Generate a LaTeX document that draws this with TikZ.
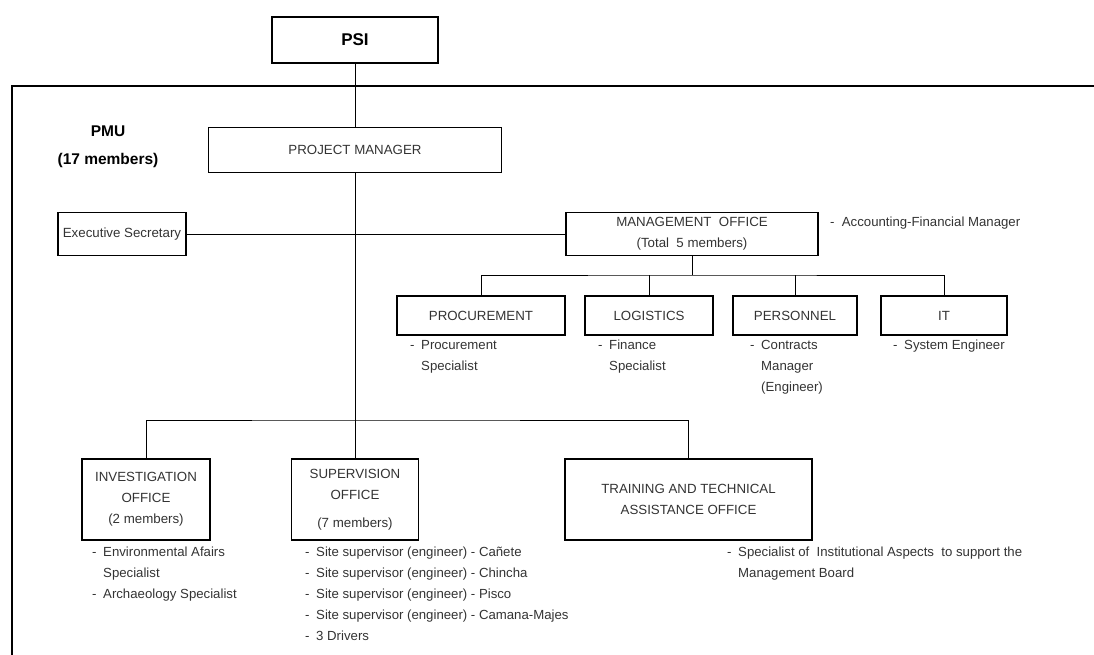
\documentclass[tikz,border=0pt]{standalone}
\usepackage{fontspec}
\setmainfont{Liberation Sans}
\usetikzlibrary{positioning}

\newcommand{\dashitem}{\makebox[11pt][l]{-}}
\newcommand{\dashpad}{\hspace*{11pt}}

\tikzset{
  office/.style = {draw, rectangle, line width=1.3pt, inner sep=0pt, align=center,
                   text=black!80, font=\fontsize{13.3}{21}\selectfont},
  duties/.style = {anchor=north west, inner sep=0pt, align=left,
                   text=black!80, font=\fontsize{13.2}{21}\selectfont},
  link/.style   = {line width=0.8pt}
}

\begin{document}
\begin{tikzpicture}[x=1pt, y=-1pt]

\useasboundingbox (0,0) rectangle (1094,655);
\draw [line width=2.2pt] (12,660) -- (12,86) -- (1100,86);

\node [office, minimum width=166pt, minimum height=46pt, text=black, font=\bfseries\fontsize{17}{20}\selectfont] (psi) at (355,40) {PSI};
\node [office, minimum width=293pt, minimum height=45pt] (pm)   at (355,150)   {PROJECT MANAGER};
\node [align=center, font=\bfseries\fontsize{15.5}{28}\selectfont] (pmu) at (108,147) {PMU\\(17 members)};
\node [office, minimum width=128pt, minimum height=43pt] (sec)  at (122,234)   {Executive Secretary};
\node [office, minimum width=252pt, minimum height=43pt] (mo)   at (692,234)   {MANAGEMENT \ OFFICE\\(Total \ 5 members)};
\node [duties, anchor=west                             ] (acc)  at (830,223)   {- \ Accounting-Financial Manager};

\node [office, minimum width=168pt, minimum height=39pt] (proc) at (481,315.5) {PROCUREMENT};
\node [office, minimum width=128pt, minimum height=39pt] (log)  at (649,315.5) {LOGISTICS};
\node [office, minimum width=124pt, minimum height=39pt] (pers) at (795,315.5) {PERSONNEL};
\node [office, minimum width=126pt, minimum height=39pt] (it)   at (944,315.5) {IT};

\node [duties] (procl) at (410,340) {\dashitem Procurement\\\dashpad Specialist};
\node [duties] (logl)  at (598,340) {\dashitem Finance\\\dashpad Specialist};
\node [duties] (persl) at (750,340) {\dashitem Contracts\\\dashpad Manager\\\dashpad (Engineer)};
\node [duties] (itl)   at (893,340) {\dashitem System Engineer};

\node [office, minimum width=128pt, minimum height=81pt] (inv)  at (146,499.5)   {INVESTIGATION\\OFFICE\\(2 members)};
\node [office, minimum width=127pt, minimum height=81pt] (sup)  at (355,499.5)   {SUPERVISION\\OFFICE\\[7pt](7 members)};
\node [office, minimum width=247pt, minimum height=81pt] (tta)  at (688.5,499.5) {TRAINING AND TECHNICAL\\ASSISTANCE OFFICE};

\node [duties] (invl) at (92,547)  {\dashitem Environmental Afairs\\\dashpad Specialist\\\dashitem Archaeology Specialist};
\node [duties] (supl) at (305,547) {\dashitem Site supervisor (engineer) - Cañete\\
                                    \dashitem Site supervisor (engineer) - Chincha\\
                                    \dashitem Site supervisor (engineer) - Pisco\\
                                    \dashitem Site supervisor (engineer) - Camana-Majes\\
                                    \dashitem 3 Drivers};
\node [duties] (ttal) at (727,547) {\dashitem Specialist of \ Institutional Aspects \ to support the\\\dashpad Management Board};

\coordinate (pmbus) at (355,420);
\coordinate (mobus) at (692,275);

\draw [link] (psi) -- (pm);
\draw [link] (pm)  -- (pmbus);
\draw [link] (sec) -- (mo);

\draw [link] (inv) |- (pmbus) -| (tta);
\draw [link] (sup) -- (pmbus);

\draw [link] (mo)   -- (mobus);
\draw [link] (proc) |- (mobus) -| (it);
\draw [link] (log)  -- (log  |- mobus);
\draw [link] (pers) -- (pers |- mobus);

\end{tikzpicture}
\end{document}
